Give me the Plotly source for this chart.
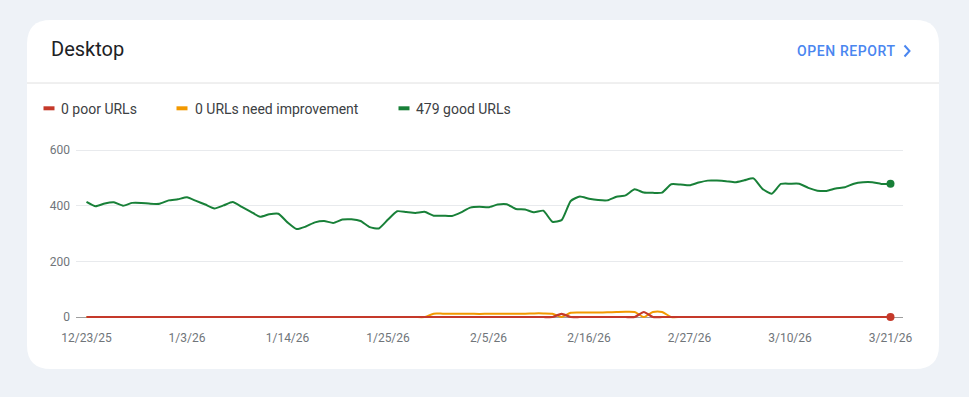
import pandas as pd
import plotly.graph_objects as go

# ---------------- data ----------------
start_date = "2025-12-23"
end_date = "2026-03-21"
dates = pd.date_range(start_date, end_date, freq="D")

good_urls = [414, 398, 408, 412, 400, 410, 410, 407, 407, 419,
             423, 430, 417, 404, 390, 401, 413, 396, 378, 360,
             369, 371, 340, 316, 325, 340, 345, 338, 350, 351,
             345, 323, 318, 350, 380, 377, 374, 378, 364, 364,
             363, 376, 393, 396, 394, 404, 405, 388, 386, 376,
             382, 342, 348, 417, 433, 425, 420, 419, 432, 437,
             459, 447, 446, 447, 477, 476, 473, 483, 490, 490,
             488, 484, 491, 498, 460, 443, 478, 479, 479, 464,
             454, 453, 462, 466, 479, 484, 484, 478, 479]

need_improvement = [0] * 38 + [12, 12, 12, 12, 12, 11, 12, 12, 12, 12,
                               12, 13, 13, 12, 0, 15, 16, 16, 16, 17,
                               18, 19, 18, 0, 18, 18] + [0] * 25

poor_urls = [0] * 52 + [11] + [0] * 8 + [18] + [0] * 27

tick_labels = ["12/23/25", "1/3/26", "1/14/26", "1/25/26", "2/5/26",
               "2/16/26", "2/27/26", "3/10/26", "3/21/26"]
tick_dates = pd.date_range(start_date, end_date, freq="11D")

legend_labels = ["0 poor URLs", "0 URLs need improvement", "479 good URLs"]
y_ticks = [0, 200, 400, 600]

# ---------------- style ----------------
W, H = 969, 397
PL, PR, PT, PB = 76, 903, 147, 320  # plot area in pixels
RED = "#c5392a"
ORANGE = "#f29900"
GREEN = "#188038"
BG = "#eef2f7"


def px(x):
    return (x - PL) / (PR - PL)


def py(y):
    return (PB - y) / (PB - PT)


def path_px(cmds):
    out = []
    for c in cmds:
        if isinstance(c, str):
            out.append(c)
        else:
            out.append(f"{px(c[0]):.5f},{py(c[1]):.5f}")
    return " ".join(out)


fig = go.Figure()

fig.add_trace(go.Scatter(x=dates, y=good_urls, mode="lines",
                         line=dict(color=GREEN, width=2, shape="spline", smoothing=0.5),
                         hoverinfo="skip", showlegend=False))
fig.add_trace(go.Scatter(x=dates, y=need_improvement, mode="lines",
                         line=dict(color=ORANGE, width=2, shape="spline", smoothing=0.6),
                         hoverinfo="skip", showlegend=False))
fig.add_trace(go.Scatter(x=dates, y=poor_urls, mode="lines",
                         line=dict(color=RED, width=2.2, shape="spline", smoothing=0.6),
                         hoverinfo="skip", showlegend=False))
# end markers
fig.add_trace(go.Scatter(x=[dates[-1]], y=[good_urls[-1]], mode="markers",
                         marker=dict(color=GREEN, size=8), cliponaxis=False,
                         hoverinfo="skip", showlegend=False))
fig.add_trace(go.Scatter(x=[dates[-1]], y=[poor_urls[-1]], mode="markers",
                         marker=dict(color=RED, size=8), cliponaxis=False,
                         hoverinfo="skip", showlegend=False))

# axis ranges from pixel geometry
x0_px, x_last_px = 86.5, 890.5
day_px = (x_last_px - x0_px) / (len(dates) - 1)
t0 = dates[0]
x_range = [t0 + pd.Timedelta(days=(PL - x0_px) / day_px),
           t0 + pd.Timedelta(days=(PR - x0_px) / day_px)]
unit_px = (317 - 150) / 600
y_range = [-(PB - 317) / unit_px, 600 + (150 - PT) / unit_px]

shapes = []
# card
cx0, cy0, cx1, cy1, r = 27, 20, 939, 369, 24
shapes.append(dict(
    type="path", xref="paper", yref="paper", layer="below",
    path=path_px(["M", (cx0 + r, cy0), "L", (cx1 - r, cy0), "Q", (cx1, cy0), (cx1, cy0 + r),
                  "L", (cx1, cy1 - r), "Q", (cx1, cy1), (cx1 - r, cy1),
                  "L", (cx0 + r, cy1), "Q", (cx0, cy1), (cx0, cy1 - r),
                  "L", (cx0, cy0 + r), "Q", (cx0, cy0), (cx0 + r, cy0), "Z"]),
    fillcolor="white", line=dict(width=0)))
# divider
shapes.append(dict(type="line", xref="paper", yref="paper",
                   x0=px(cx0), x1=px(cx1), y0=py(83), y1=py(83),
                   line=dict(color="#e0e0e0", width=1)))
# chevron
shapes.append(dict(type="path", xref="paper", yref="paper",
                   path=path_px(["M", (904.5, 45.5), "L", (909.5, 51), "L", (904.5, 56.5)]),
                   line=dict(color="#4a86f0", width=2)))
# legend swatches
legend_colors = [RED, ORANGE, GREEN]
legend_swatch_x = [43.5, 176.5, 398.5]
legend_text_x = [59, 193, 414]
for c, sx in zip(legend_colors, legend_swatch_x):
    shapes.append(dict(type="line", xref="paper", yref="paper",
                       x0=px(sx), x1=px(sx + 11), y0=py(108.3), y1=py(108.3),
                       line=dict(color=c, width=4)))

annotations = [
    dict(text="Desktop", x=px(48.5), y=py(49), xref="paper", yref="paper",
         xanchor="left", yanchor="middle", showarrow=False,
         font=dict(family="Roboto", size=20, color="#202124")),
    dict(text='<span style="letter-spacing:0.6px">OPEN REPORT</span>',
         x=px(795), y=py(51), xref="paper", yref="paper",
         xanchor="left", yanchor="middle", showarrow=False,
         font=dict(family="Roboto", size=14, color="#4a86f0", weight=500)),
]
for t, tx in zip(legend_labels, legend_text_x):
    annotations.append(dict(text=t, x=px(tx), y=py(108.5), xref="paper", yref="paper",
                            xanchor="left", yanchor="middle", showarrow=False,
                            font=dict(family="Roboto", size=14, color="#3c4043")))

fig.update_layout(
    width=W, height=H,
    margin=dict(l=PL, r=W - PR, t=PT, b=H - PB, pad=0),
    paper_bgcolor=BG, plot_bgcolor="rgba(0,0,0,0)",
    shapes=shapes, annotations=annotations,
    font=dict(family="Roboto"),
    showlegend=False,
    xaxis=dict(type="date", range=x_range, tickvals=tick_dates, ticktext=tick_labels,
               showgrid=False, zeroline=False, showline=False, ticks="",
               tickfont=dict(size=12, color="#70757a"), ticklabelstandoff=9,
               fixedrange=True),
    yaxis=dict(range=y_range, tickvals=y_ticks, showgrid=True, gridcolor="#e8eaed",
               gridwidth=1, zeroline=True, zerolinecolor="#9e9e9e", zerolinewidth=1,
               showline=False, ticks="", tickfont=dict(size=12, color="#70757a"),
               ticklabelstandoff=5, fixedrange=True),
)

fig.write_html("out.html", config={"displayModeBar": False},
               post_script="document.body.style.margin='0px';document.body.style.overflow='hidden';")
